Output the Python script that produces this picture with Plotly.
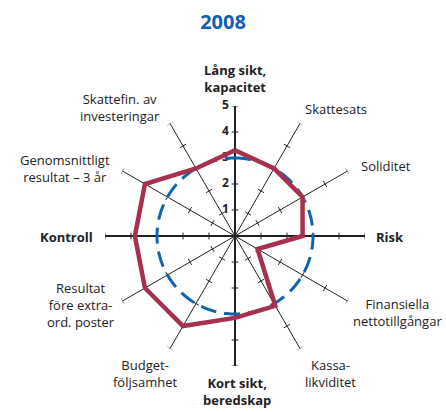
import numpy as np
import plotly.graph_objects as go

# categories clockwise from the top
categories = ["Lång sikt, kapacitet", "Skattesats", "Soliditet", "Risk",
              "Finansiella nettotillgångar", "Kassa-likviditet", "Kort sikt, beredskap",
              "Budget-följsamhet", "Resultat före extra-ord. poster", "Kontroll",
              "Genomsnittligt resultat – 3 år", "Skattefin. av investeringar"]
label_text = ["<b>Lång sikt,<br>kapacitet</b>", "Skattesats", "Soliditet", "<b>Risk</b>",
              "Finansiella<br>nettotillgångar", "Kassa-<br>likviditet", "<b>Kort sikt,<br>beredskap</b>",
              "Budget-<br>följsamhet", "Resultat<br>före extra-<br>ord. poster", "<b>Kontroll</b>",
              "Genomsnittligt<br>resultat – 3 år", "Skattefin. av<br>investeringar"]
angles = [0, 30, 60, 90, 120, 150, 180, 210, 240, 270, 300, 330]
values_2008 = [3.3, 3.0, 3.0, 2.6, 1.0, 3.1, 3.15, 4.0, 4.0, 3.85, 4.0, 3.0]
target = 3
scale_ticks = [1, 2, 3, 4, 5]

# label centres in pixels (layout only)
label_px = [(235, 78), (336, 109), (386, 166), (390, 237), (397, 312), (330, 373),
            (237, 391), (145, 373), (81, 305), (66, 237), (65, 168), (120, 107)]

W, H = 446, 412
RED = "#a8304f"
BLUE = "#0b64ad"
INK = "#222"

fig = go.Figure()

# thicker main axes
for a in [0, 90, 180, 270]:
    fig.add_trace(go.Scatterpolar(r=[0, 5], theta=[a, a], mode="lines",
                                  line=dict(color=INK, width=2), hoverinfo="skip"))

# small tick marks across every spoke
d = 0.13
tr, tt = [], []
for a in angles:
    for r in scale_ticks:
        off = np.degrees(np.arctan(d / r))
        rr = np.hypot(r, d)
        tr += [rr, rr, None]
        tt += [a - off, a + off, None]
fig.add_trace(go.Scatterpolar(r=tr, theta=tt, mode="lines",
                              line=dict(color=INK, width=1), hoverinfo="skip"))

# scale numbers along the top spoke
fig.add_trace(go.Scatterpolar(r=scale_ticks, theta=[0] * len(scale_ticks), mode="text",
                              text=[f"<b>{v}</b>\u00a0\u00a0" for v in scale_ticks],
                              textposition="middle left",
                              textfont=dict(size=12, color=INK), hoverinfo="skip"))

# dashed target circle
circ = np.linspace(0, 360, 361)
fig.add_trace(go.Scatterpolar(r=[target] * len(circ), theta=circ, mode="lines",
                              line=dict(color=BLUE, width=3, dash="16px,8px"), hoverinfo="skip"))

# the 2008 profile
fig.add_trace(go.Scatterpolar(r=values_2008 + values_2008[:1], theta=angles + angles[:1],
                              mode="lines", line=dict(color=RED, width=4.5),
                              name="2008"))

for (px, py), txt in zip(label_px, label_text):
    fig.add_annotation(x=px / W, y=1 - py / H, xref="paper", yref="paper", text=txt,
                       showarrow=False, xanchor="center", yanchor="middle",
                       font=dict(size=13, color=INK))

cx, cy, R = 235, 236, 130
fig.update_layout(
    width=W, height=H, margin=dict(l=0, r=0, t=0, b=0),
    paper_bgcolor="white", showlegend=False,
    font=dict(family="Open Sans, sans-serif", color=INK),
    title=dict(text="<b>2008</b>", x=0.5, xanchor="center", y=1 - 22 / H, yanchor="middle",
               font=dict(size=20, color="#1060b0")),
    polar=dict(
        domain=dict(x=[(cx - R) / W, (cx + R) / W], y=[(H - cy - R) / H, (H - cy + R) / H]),
        bgcolor="white",
        angularaxis=dict(rotation=90, direction="clockwise", tickvals=angles,
                         showticklabels=False, ticks="", showline=False,
                         showgrid=True, gridcolor=INK, gridwidth=1),
        radialaxis=dict(range=[0, 5], angle=90, showgrid=False, showline=False,
                        ticks="", showticklabels=False),
    ),
)

fig.write_html("out.html", config={"displayModeBar": False},
               post_script="document.body.style.margin='0';")
